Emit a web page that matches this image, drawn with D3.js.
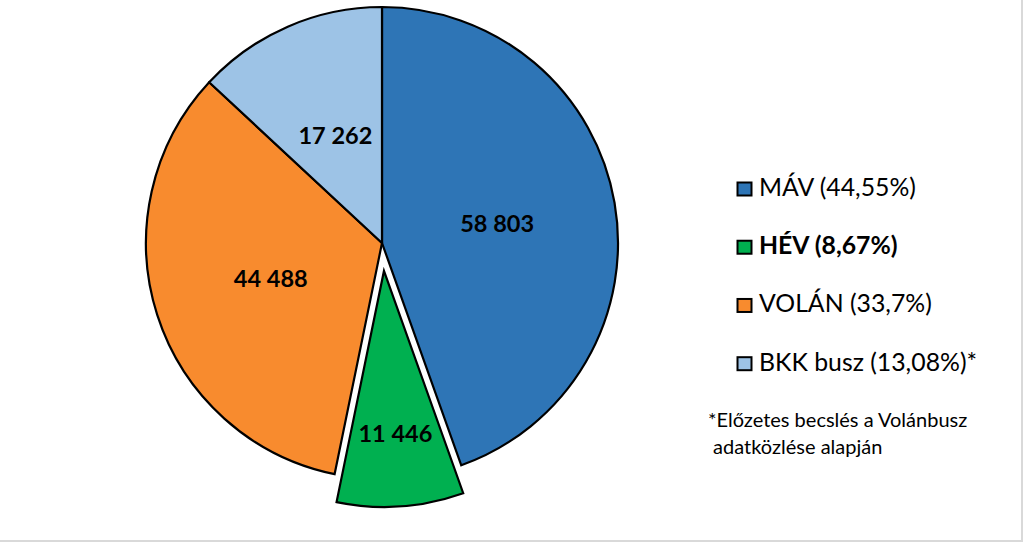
<!DOCTYPE html>
<html><head><meta charset="utf-8">
<script src="https://cdn.jsdelivr.net/npm/d3@7"></script>
<style>html,body{margin:0;padding:0;background:#fff;}svg{display:block;}</style>
</head><body>
<svg id="chart" width="1024" height="542"></svg>
<script>
const categories = ["MÁV", "HÉV", "VOLÁN", "BKK busz"];
const values = [58803, 11446, 44488, 17262];
const valueLabels = ["58 803", "11 446", "44 488", "17 262"];
const legendLabels = ["MÁV (44,55%)", "HÉV (8,67%)", "VOLÁN (33,7%)", "BKK busz (13,08%)*"];
const colors = ["#2E75B6", "#00B050", "#F88B2E", "#9DC3E6"];
const explodedIndex = 1;
const footnote = ["*Előzetes becslés a Volánbusz", " adatközlése alapján"];

const svg = d3.select("#chart");
const cx = 382, cy = 243, R = 236, explode = 28;

// frame
svg.append("rect").attr("x", -2).attr("y", -2).attr("width", 1024).attr("height", 543)
  .attr("fill", "none").attr("stroke", "#d9d9d9").attr("stroke-width", 2);

const pie = d3.pie().sort(null).value(d => d)(values);
const arc = d3.arc().innerRadius(0).outerRadius(R);
const g = svg.append("g").attr("transform", `translate(${cx},${cy})`);

function offset(d, i) {
  if (i !== explodedIndex) return [0, 0];
  const a = (d.startAngle + d.endAngle) / 2;
  return [Math.sin(a) * explode, -Math.cos(a) * explode];
}

const slices = g.selectAll("g.slice").data(pie).enter().append("g")
  .attr("class", "slice")
  .attr("transform", (d, i) => { const o = offset(d, i); return `translate(${o[0]},${o[1]})`; });

slices.append("path").attr("d", arc)
  .attr("fill", (d, i) => colors[i])
  .attr("stroke", "#000").attr("stroke-width", 2.2).attr("stroke-linejoin", "miter");

slices.append("text")
  .attr("transform", (d, i) => {
    const frac = (d.endAngle - d.startAngle) / (2 * Math.PI);
    const lr = frac < 0.1 ? R * 0.69 : R * 0.495;
    const a = (d.startAngle + d.endAngle) / 2;
    return `translate(${Math.sin(a) * lr},${-Math.cos(a) * lr})`;
  })
  .attr("text-anchor", "middle").attr("dy", "0.36em")
  .attr("font-family", "Lato, 'Open Sans', sans-serif").attr("font-weight", "bold")
  .attr("font-size", 23.5).attr("fill", "#000")
  .text((d, i) => valueLabels[i]);

// legend
const legendY = d3.scalePoint().domain(categories).range([196, 370.7]);
const lg = svg.append("g");
categories.forEach((c, i) => {
  const y = legendY(c);
  lg.append("rect").attr("x", 737.5).attr("y", y - 13.5).attr("width", 14).attr("height", 13)
    .attr("fill", colors[i]).attr("stroke", "#000").attr("stroke-width", 2);
  lg.append("text").attr("x", 759).attr("y", y)
    .attr("font-family", "Lato, 'Open Sans', sans-serif")
    .attr("font-weight", i === explodedIndex ? "bold" : "normal")
    .attr("font-size", 24.8).attr("fill", "#000").text(legendLabels[i]);
});

footnote.forEach((t, i) => {
  svg.append("text").attr("x", 708).attr("y", 427.3 + i * 26.7)
    .attr("font-family", "Lato, 'Open Sans', sans-serif").attr("font-size", 20)
    .attr("fill", "#000").attr("xml:space", "preserve").style("white-space", "pre").text(t);
});
</script>
</body></html>
